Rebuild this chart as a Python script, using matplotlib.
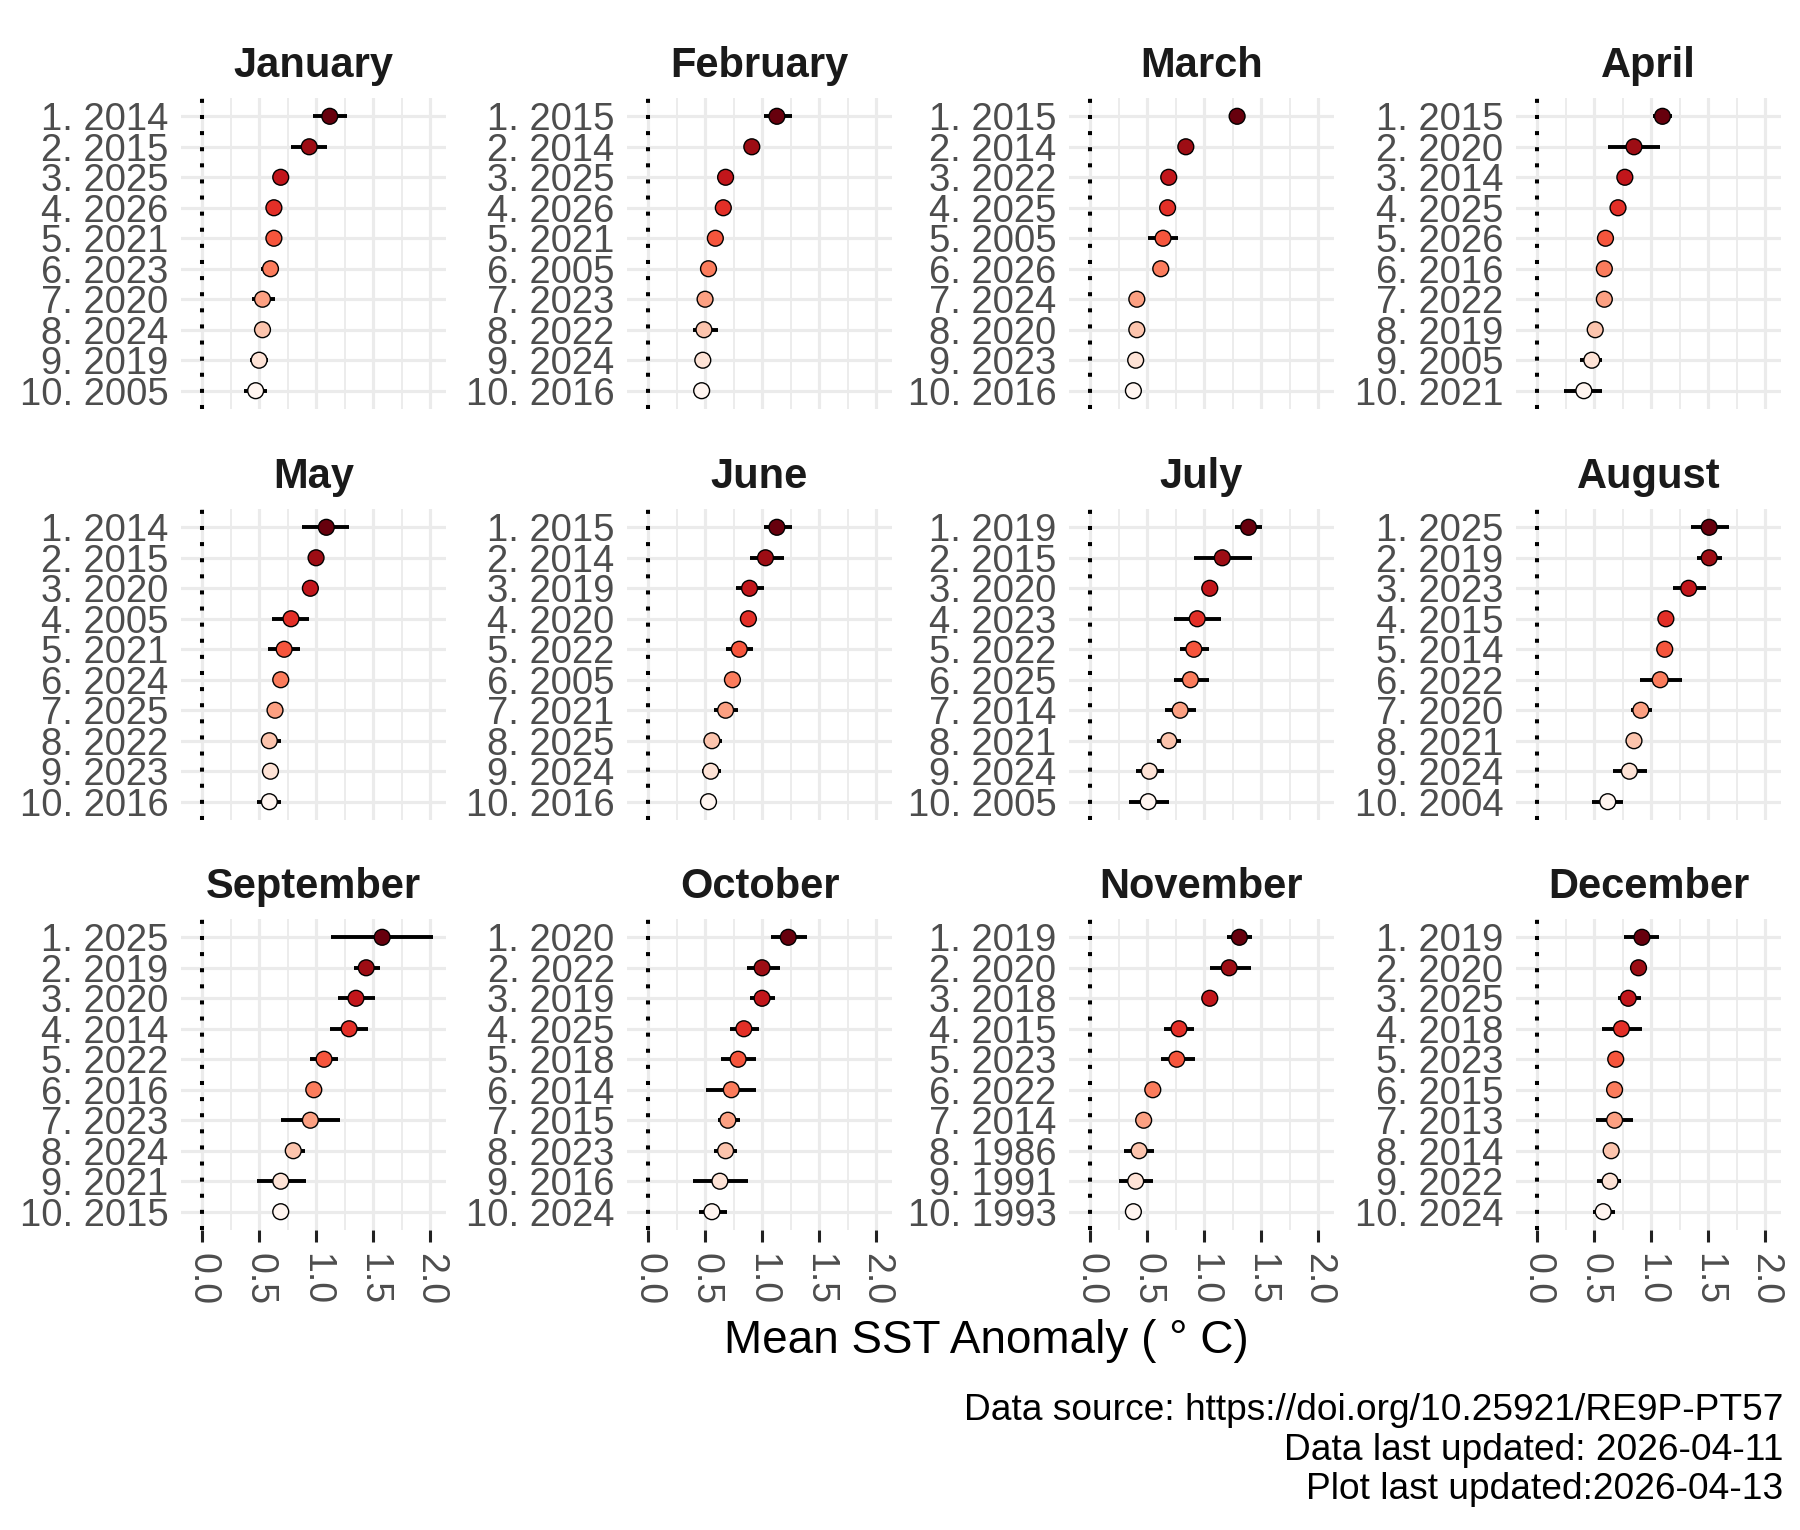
import matplotlib
matplotlib.use("Agg")
import matplotlib.pyplot as plt
import numpy as np

plt.rcParams["font.family"] = ["Liberation Sans", "DejaVu Sans"]

months = ["January", "February", "March", "April", "May", "June",
          "July", "August", "September", "October", "November", "December"]

# top-10 years per month, ranked by mean anomaly
years = [
    [2014, 2015, 2025, 2026, 2021, 2023, 2020, 2024, 2019, 2005],
    [2015, 2014, 2025, 2026, 2021, 2005, 2023, 2022, 2024, 2016],
    [2015, 2014, 2022, 2025, 2005, 2026, 2024, 2020, 2023, 2016],
    [2015, 2020, 2014, 2025, 2026, 2016, 2022, 2019, 2005, 2021],
    [2014, 2015, 2020, 2005, 2021, 2024, 2025, 2022, 2023, 2016],
    [2015, 2014, 2019, 2020, 2022, 2005, 2021, 2025, 2024, 2016],
    [2019, 2015, 2020, 2023, 2022, 2025, 2014, 2021, 2024, 2005],
    [2025, 2019, 2023, 2015, 2014, 2022, 2020, 2021, 2024, 2004],
    [2025, 2019, 2020, 2014, 2022, 2016, 2023, 2024, 2021, 2015],
    [2020, 2022, 2019, 2025, 2018, 2014, 2015, 2023, 2016, 2024],
    [2019, 2020, 2018, 2015, 2023, 2022, 2014, 1986, 1991, 1993],
    [2019, 2020, 2025, 2018, 2023, 2015, 2013, 2014, 2022, 2024],
]

sst_mean = [
    [1.12, 0.94, 0.69, 0.63, 0.63, 0.60, 0.53, 0.53, 0.50, 0.47],
    [1.13, 0.91, 0.68, 0.66, 0.59, 0.53, 0.50, 0.49, 0.48, 0.47],
    [1.29, 0.84, 0.69, 0.68, 0.64, 0.62, 0.41, 0.41, 0.40, 0.38],
    [1.10, 0.85, 0.77, 0.71, 0.60, 0.59, 0.59, 0.51, 0.48, 0.41],
    [1.09, 1.00, 0.95, 0.78, 0.72, 0.69, 0.64, 0.59, 0.60, 0.59],
    [1.13, 1.03, 0.89, 0.88, 0.80, 0.74, 0.68, 0.56, 0.55, 0.53],
    [1.39, 1.16, 1.05, 0.94, 0.91, 0.88, 0.79, 0.69, 0.52, 0.51],
    [1.51, 1.51, 1.33, 1.13, 1.12, 1.08, 0.91, 0.85, 0.81, 0.62],
    [1.58, 1.44, 1.35, 1.29, 1.07, 0.98, 0.95, 0.80, 0.69, 0.69],
    [1.23, 1.00, 1.00, 0.84, 0.79, 0.73, 0.70, 0.68, 0.63, 0.56],
    [1.31, 1.22, 1.05, 0.78, 0.76, 0.55, 0.47, 0.43, 0.40, 0.38],
    [0.92, 0.89, 0.80, 0.74, 0.69, 0.68, 0.68, 0.65, 0.64, 0.58],
]

sst_lo = [
    [0.97, 0.78, 0.65, 0.59, 0.59, 0.52, 0.44, 0.49, 0.42, 0.37],
    [1.02, 0.87, 0.64, 0.62, 0.55, 0.49, 0.46, 0.39, 0.44, 0.43],
    [1.25, 0.80, 0.65, 0.64, 0.51, 0.58, 0.37, 0.37, 0.36, 0.34],
    [1.02, 0.62, 0.73, 0.67, 0.56, 0.55, 0.55, 0.47, 0.38, 0.24],
    [0.88, 0.96, 0.91, 0.61, 0.58, 0.65, 0.60, 0.52, 0.56, 0.48],
    [1.02, 0.89, 0.77, 0.84, 0.68, 0.70, 0.58, 0.50, 0.47, 0.49],
    [1.27, 0.91, 1.01, 0.74, 0.79, 0.74, 0.66, 0.59, 0.40, 0.34],
    [1.35, 1.40, 1.19, 1.09, 1.08, 0.90, 0.82, 0.81, 0.67, 0.48],
    [1.13, 1.33, 1.19, 1.12, 0.95, 0.94, 0.69, 0.73, 0.48, 0.65],
    [1.08, 0.87, 0.89, 0.72, 0.64, 0.51, 0.61, 0.58, 0.39, 0.45],
    [1.20, 1.05, 1.01, 0.65, 0.62, 0.51, 0.43, 0.30, 0.25, 0.34],
    [0.76, 0.85, 0.71, 0.57, 0.65, 0.64, 0.52, 0.61, 0.53, 0.49],
]

sst_hi = [
    [1.27, 1.10, 0.73, 0.67, 0.67, 0.66, 0.64, 0.57, 0.58, 0.57],
    [1.26, 0.95, 0.72, 0.70, 0.63, 0.57, 0.54, 0.61, 0.52, 0.51],
    [1.33, 0.88, 0.73, 0.72, 0.77, 0.66, 0.45, 0.45, 0.44, 0.42],
    [1.18, 1.08, 0.81, 0.75, 0.64, 0.63, 0.63, 0.55, 0.57, 0.57],
    [1.29, 1.04, 0.99, 0.94, 0.86, 0.73, 0.68, 0.69, 0.64, 0.69],
    [1.26, 1.19, 1.02, 0.92, 0.92, 0.78, 0.79, 0.65, 0.64, 0.57],
    [1.51, 1.42, 1.09, 1.15, 1.04, 1.04, 0.93, 0.80, 0.65, 0.69],
    [1.68, 1.62, 1.48, 1.17, 1.16, 1.27, 1.01, 0.89, 0.96, 0.75],
    [2.03, 1.56, 1.52, 1.46, 1.19, 1.02, 1.21, 0.90, 0.91, 0.73],
    [1.39, 1.16, 1.11, 0.97, 0.95, 0.95, 0.81, 0.78, 0.88, 0.69],
    [1.42, 1.41, 1.09, 0.91, 0.92, 0.59, 0.51, 0.56, 0.55, 0.42],
    [1.07, 0.93, 0.91, 0.92, 0.73, 0.72, 0.84, 0.69, 0.74, 0.68],
]

x_ticks = [0.0, 0.5, 1.0, 1.5, 2.0]
caption = ["Data source: https://doi.org/10.25921/RE9P-PT57",
           "Data last updated: 2026-04-11",
           "Plot last updated:2026-04-13"]

W, H = 1800, 1530
fig = plt.figure(figsize=(W / 100, H / 100), dpi=100)

lefts = [181, 627, 1069, 1516]
tops = [98, 509, 919]
pw, ph = 265, 311

rank_cols = plt.cm.Reds(np.linspace(1, 0, 10))

for i, month in enumerate(months):
    r, c = divmod(i, 4)
    ax = fig.add_axes([lefts[c] / W, 1 - (tops[r] + ph) / H, pw / W, ph / H])
    ranks = np.arange(1, 11)

    ax.hlines(ranks, sst_lo[i], sst_hi[i], color="black", lw=2.8, zorder=2)
    ax.scatter(sst_mean[i], ranks, s=130, c=rank_cols, edgecolors="black",
               linewidths=1.0, zorder=3)
    ax.axvline(0, color="black", lw=2.9, linestyle=(0, (1, 3)), zorder=2)

    ax.set_xlim(-0.185, 2.14)
    ax.set_ylim(10.6, 0.4)
    ax.set_xticks(x_ticks)
    ax.set_xticks([0.25, 0.75, 1.25, 1.75], minor=True)
    ax.set_yticks(ranks)
    ax.set_yticklabels([f"{k}. {y}" for k, y in zip(ranks, years[i])])
    ax.grid(which="major", color="#ebebeb", lw=2.3, zorder=0)
    ax.grid(which="minor", axis="x", color="#ebebeb", lw=1.3, zorder=0)
    ax.set_axisbelow(True)
    for s in ax.spines.values():
        s.set_visible(False)

    ax.tick_params(axis="y", length=0, pad=9, labelsize=27.5, labelcolor="#4d4d4d")
    ax.tick_params(axis="x", which="minor", length=0)
    if r == 2:
        ax.set_xticklabels([f"{t:.1f}" for t in x_ticks])
        ax.tick_params(axis="x", which="major", length=8.5, width=2.2, color="#222222",
                       pad=8, labelsize=27, labelcolor="#4d4d4d", labelrotation=270)
    else:
        ax.tick_params(axis="x", which="major", length=0, labelbottom=False)

    ax.set_title(month, fontsize=30, fontweight="bold", color="#1a1a1a", pad=15)

fig.text(986 / W, 1 - 1353 / H, "Mean SST Anomaly ( \u00b0 C)", fontsize=33,
         ha="center", va="baseline", color="black")

for line, yb in zip(caption, [1420, 1460, 1499]):
    fig.text(1783 / W, 1 - yb / H, line, fontsize=26.7, ha="right", va="baseline",
             color="black")

fig.savefig("out.png", dpi=100, facecolor="white")
